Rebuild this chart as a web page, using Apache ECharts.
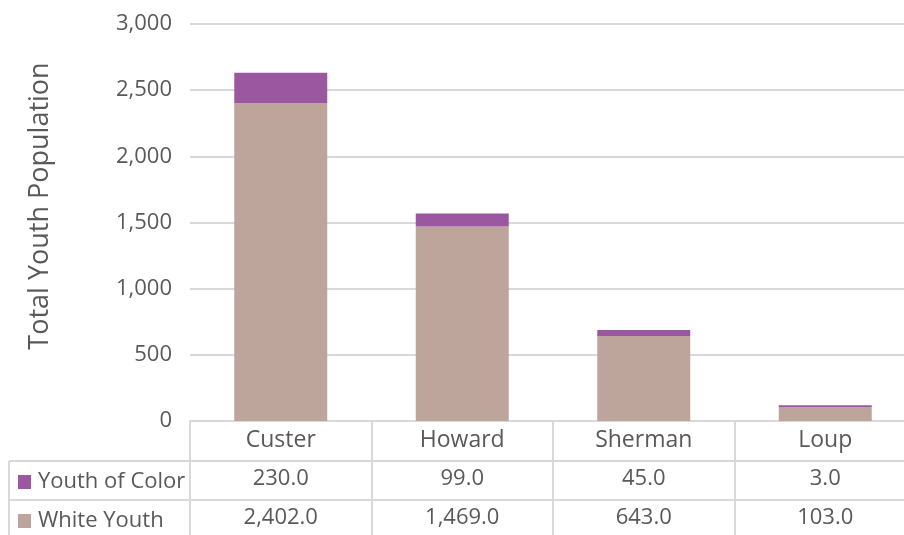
<!DOCTYPE html>
<html>
<head>
<meta charset="utf-8">
<script src="https://cdn.jsdelivr.net/npm/echarts@6/dist/echarts.min.js"></script>
<style>
html,body{margin:0;padding:0;background:#fff;overflow:hidden;width:904px;height:535px;}
#chart{width:920px;height:535px;}
</style>
</head>
<body>
<div id="chart"></div>
<script>
const categories = ['Custer', 'Howard', 'Sherman', 'Loup'];
const youthOfColor = [230, 99, 45, 3];
const whiteYouth = [2402, 1469, 643, 103];
const yTicks = { min: 0, max: 3000, interval: 500 };
const seriesNames = ['Youth of Color', 'White Youth'];

const FONT = 'Open Sans';
const TXT = '#595959';
const LINE = '#d9d9d9';

function fmt1(v) {
  return v.toLocaleString('en-US', { minimumFractionDigits: 1, maximumFractionDigits: 1 });
}

const chart = echarts.init(document.getElementById('chart'), null, { renderer: 'canvas' });

function tableAxis(offset, values, tickLen, size, margin) {
  return {
    type: 'category',
    data: categories,
    position: 'bottom',
    offset: offset,
    axisLine: { show: true, lineStyle: { color: LINE, width: 2 } },
    axisTick: { show: true, length: tickLen, lineStyle: { color: LINE, width: 2 } },
    axisLabel: {
      margin: margin,
      fontFamily: FONT, fontSize: size, color: TXT,
      formatter: values ? function (v, i) { return fmt1(values[i]); } : null
    },
    splitLine: { show: false }
  };
}

chart.setOption({
  animation: false,
  textStyle: { fontFamily: FONT },
  grid: { left: 190, top: 24, width: 726, height: 397 },
  legend: [
    {
      data: [seriesNames[0]], left: 13, top: 466, icon: 'rect',
      itemWidth: 13, itemHeight: 14, itemGap: 6,
      textStyle: { fontFamily: FONT, fontSize: 22, color: TXT, padding: [0, 0, 0, 2] }
    },
    {
      data: [seriesNames[1]], left: 13, top: 505, icon: 'rect',
      itemWidth: 13, itemHeight: 14, itemGap: 6,
      textStyle: { fontFamily: FONT, fontSize: 22, color: TXT, padding: [0, 0, 0, 2] }
    }
  ],
  xAxis: [
    tableAxis(0, null, 40, 23, 8),
    tableAxis(40, youthOfColor, 39, 22, 7),
    tableAxis(79, whiteYouth, 40, 22, 7)
  ],
  yAxis: {
    type: 'value',
    min: yTicks.min, max: yTicks.max, interval: yTicks.interval,
    axisLine: { show: false },
    axisTick: { show: false },
    axisLabel: {
      margin: 18, fontFamily: FONT, fontSize: 22, color: TXT,
      formatter: function (v) { return v.toLocaleString('en-US'); }
    },
    splitLine: { lineStyle: { color: LINE, width: 2 } }
  },
  graphic: [
    { type: 'line', shape: { x1: 9, y1: 461, x2: 190, y2: 461 }, style: { stroke: LINE, lineWidth: 2 } },
    { type: 'line', shape: { x1: 9, y1: 500, x2: 190, y2: 500 }, style: { stroke: LINE, lineWidth: 2 } },
    { type: 'line', shape: { x1: 9, y1: 461, x2: 9, y2: 540 }, style: { stroke: LINE, lineWidth: 2 } },
    {
      type: 'text', x: 40, y: 206, rotation: Math.PI / 2,
      style: {
        text: 'Total Youth Population', fontFamily: FONT, fontSize: 27, fill: TXT,
        textAlign: 'center', textVerticalAlign: 'middle'
      }
    }
  ],
  series: [
    {
      name: seriesNames[1], type: 'bar', stack: 'total', xAxisIndex: 0,
      data: whiteYouth, barWidth: 93,
      itemStyle: { color: '#bda59c' }
    },
    {
      name: seriesNames[0], type: 'bar', stack: 'total', xAxisIndex: 0,
      data: youthOfColor, barWidth: 93, barMinHeight: 2,
      itemStyle: { color: '#9b58a0' }
    }
  ]
});
</script>
</body>
</html>
